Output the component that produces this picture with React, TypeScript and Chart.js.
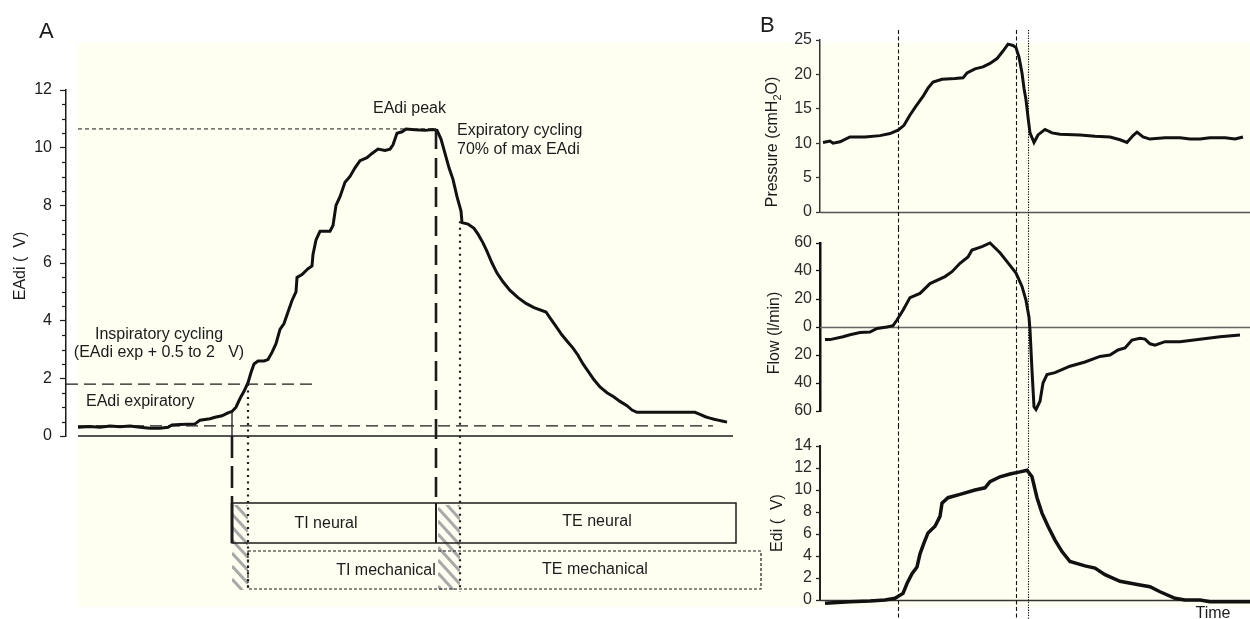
import React, { useEffect, useRef } from "react";
import { Chart, registerables } from "chart.js";

Chart.register(...registerables);

const FONT = '"Liberation Sans", Arial, Helvetica, sans-serif';
Chart.defaults.font.family = FONT;
const BG = "#fefef1";
const INK = "#1b1b1b";

// ---------------- Panel A : EAdi trace (time in ms, value in µV) ----------------
const eadiTimeMs = [24, 48, 68, 88, 108, 128, 148, 168, 188, 204, 212, 228, 258, 268, 288, 298, 312, 324, 332, 340, 348, 356, 364, 370, 376, 384, 396, 404, 412, 420, 428, 436, 444, 452, 460, 462, 472, 484, 492, 494, 500, 508, 528, 534, 540, 548, 558, 568, 578, 588, 602, 612, 624, 638, 648, 654, 662, 672, 680, 698, 718, 734, 742, 750, 758, 766, 774, 782, 790, 792, 804, 816, 824, 834, 842, 852, 862, 874, 888, 904, 920, 936, 960, 968, 980, 992, 1004, 1014, 1024, 1034, 1044, 1056, 1068, 1082, 1096, 1108, 1122, 1132, 1142, 1168, 1208, 1258, 1268, 1280, 1288, 1296, 1304, 1312, 1322];
const eadiValues = [0.30, 0.33, 0.30, 0.35, 0.32, 0.35, 0.30, 0.27, 0.27, 0.30, 0.38, 0.40, 0.42, 0.55, 0.60, 0.65, 0.70, 0.80, 0.85, 1.0, 1.3, 1.55, 1.85, 2.2, 2.5, 2.6, 2.6, 2.65, 2.9, 3.2, 3.7, 3.9, 4.3, 4.7, 5.0, 5.5, 5.6, 5.8, 5.9, 6.3, 6.8, 7.1, 7.1, 7.3, 8.0, 8.3, 8.8, 9.0, 9.3, 9.55, 9.65, 9.8, 9.95, 9.9, 9.95, 10.1, 10.5, 10.55, 10.65, 10.62, 10.6, 10.63, 10.6, 10.3, 9.8, 9.3, 8.9, 8.3, 7.8, 7.4, 7.35, 7.2, 7.0, 6.7, 6.4, 6.0, 5.65, 5.35, 5.05, 4.8, 4.6, 4.45, 4.3, 4.1, 3.8, 3.5, 3.25, 3.05, 2.8, 2.5, 2.25, 1.95, 1.7, 1.5, 1.35, 1.2, 1.05, 0.9, 0.82, 0.82, 0.82, 0.82, 0.75, 0.66, 0.62, 0.58, 0.55, 0.52, 0.48];
const eadiAxisMax = 12;
const eadiTickStep = 2;
const eadiPeak = 10.65;
const eadiExpiratory = 0.35;
const eadiTrigger = 1.8;
const eadiCycleOff = 7.45; // 70 % of max EAdi
const eadiOnsetLevel = 0.85;
// phase times (ms)
const traceStartMs = 24;
const baselineEndMs = 1334;
const expLineEndMs = 1294;
const triggerLineStartMs = 0;
const triggerLineEndMs = 492;
const neuralOnsetMs = 332;
const mechOnsetMs = 364;
const neuralOffMs = 740;
const mechOffMs = 788;
const neuralEndMs = 1340;
const mechEndMs = 1390;
const xMaxA = 1398;

const boxLabels = ["TI neural", "TE neural", "TI mechanical", "TE mechanical"];
const boxLabelTimes = [520, 1062, 640, 1058];

const noteTexts = ["EAdi peak", "Expiratory cycling", "70% of max EAdi", "Inspiratory cycling", "(EAdi exp + 0.5 to 2   V)", "EAdi expiratory"];
const noteTimes = [614, 782, 782, 186, 186, 40];
const noteLevels = [11.2, 10.43, 9.77, 3.36, 2.74, 1.04];
const noteAlign: CanvasTextAlign[] = ["left", "left", "left", "center", "center", "left"];

// ---------------- Panel B : ventilator traces (time in ms) ----------------
const eventTimesB = [390, 980, 1040];
const xMaxB = 2150;

const pressureTime = [15, 50, 65, 100, 150, 225, 300, 350, 390, 420, 450, 480, 515, 540, 565, 610, 675, 715, 735, 775, 815, 850, 885, 915, 940, 965, 980, 995, 1010, 1020, 1030, 1040, 1050, 1070, 1090, 1125, 1160, 1200, 1300, 1375, 1450, 1500, 1535, 1565, 1585, 1615, 1650, 1725, 1800, 1850, 1900, 1950, 2025, 2075, 2115];
const pressureValues = [10.1, 10.3, 10.0, 10.2, 10.9, 10.9, 11.1, 11.4, 11.9, 12.6, 14.1, 15.4, 16.8, 18.0, 18.9, 19.3, 19.4, 19.5, 20.2, 20.8, 21.1, 21.6, 22.3, 23.4, 24.4, 24.2, 23.9, 22.5, 20.2, 18.0, 16.3, 13.8, 11.5, 10.1, 11.2, 12.0, 11.5, 11.3, 11.2, 11.0, 10.9, 10.5, 10.1, 11.1, 11.6, 10.9, 10.6, 10.8, 10.8, 10.6, 10.6, 10.8, 10.8, 10.6, 10.9];

const flowTime = [25, 50, 115, 150, 200, 250, 285, 335, 365, 385, 415, 450, 500, 550, 625, 660, 700, 740, 760, 810, 850, 900, 950, 980, 1010, 1030, 1045, 1050, 1060, 1070, 1080, 1100, 1115, 1135, 1175, 1250, 1325, 1400, 1450, 1490, 1525, 1560, 1600, 1625, 1650, 1675, 1725, 1800, 1900, 2000, 2100];
const flowValues = [-9, -9, -7, -5.5, -4, -3.6, -1, 0, 1, 5, 12, 21, 24, 31, 36, 39.5, 45.5, 50, 55, 57.4, 60, 53, 44, 38.5, 29, 19, 7, -2, -31, -57, -59, -53, -40, -34, -32.6, -28, -25, -21, -20, -16.4, -15, -9.3, -8, -8.6, -12, -13, -10.5, -10.5, -8.8, -7, -5.7];

const ediTime = [25, 150, 250, 325, 375, 415, 435, 460, 485, 500, 520, 540, 575, 600, 610, 640, 700, 775, 825, 850, 900, 950, 1000, 1035, 1060, 1085, 1110, 1140, 1175, 1210, 1250, 1325, 1375, 1425, 1500, 1600, 1650, 1700, 1775, 1825, 1900, 1950, 2150];
const ediValues = [-0.3, -0.15, -0.1, 0, 0.15, 0.6, 1.5, 2.4, 3.0, 4.2, 5.2, 6.1, 6.7, 7.6, 8.8, 9.3, 9.6, 10.0, 10.2, 10.75, 11.2, 11.45, 11.65, 11.8, 11.2, 9.3, 7.9, 6.7, 5.45, 4.4, 3.5, 3.1, 2.9, 2.3, 1.7, 1.36, 1.2, 0.75, 0.15, 0, 0, -0.15, -0.15];

const pts = (xs: number[], ys: number[]) => xs.map((x, i) => ({ x, y: ys[i] }));

function hatch(ctx: CanvasRenderingContext2D, x1: number, x2: number, y1: number, y2: number) {
  ctx.save();
  ctx.beginPath();
  ctx.rect(x1, y1, x2 - x1, y2 - y1);
  ctx.clip();
  ctx.strokeStyle = "#a9a9a9";
  ctx.lineWidth = 3;
  ctx.setLineDash([]);
  const w = x2 - x1;
  for (let yy = y1 - w - 14; yy < y2 + 14; yy += 13) {
    ctx.beginPath();
    ctx.moveTo(x1, yy);
    ctx.lineTo(x2, yy + w * 1.1);
    ctx.stroke();
  }
  ctx.restore();
}

function vline(ctx: CanvasRenderingContext2D, x: number, y1: number, y2: number, dash: number[], width: number, color = INK) {
  ctx.save();
  ctx.strokeStyle = color;
  ctx.lineWidth = width;
  ctx.setLineDash(dash);
  ctx.beginPath();
  ctx.moveTo(x, y1);
  ctx.lineTo(x, y2);
  ctx.stroke();
  ctx.restore();
}

function makePanelA(canvas: HTMLCanvasElement) {
  const plugin = {
    id: "panelA",
    afterDatasetsDraw(chart: any) {
      const { ctx, chartArea: ca } = chart;
      const xs = chart.scales.x;
      const ys = chart.scales.y;
      const X = (t: number) => xs.getPixelForValue(t);
      const Y = (v: number) => ys.getPixelForValue(v);
      const y0 = Y(0);
      ctx.save();
      // minor ticks
      ctx.strokeStyle = INK;
      ctx.lineWidth = 1.2;
      for (let v = 0; v <= eadiAxisMax; v += 0.5) {
        if (v % eadiTickStep === 0) continue;
        const py = Math.round(Y(v)) + 0.5;
        ctx.beginPath();
        ctx.moveTo(ca.left - 4, py);
        ctx.lineTo(ca.left, py);
        ctx.stroke();
      }
      // hatched latency zones
      const nTop = y0 + 67, nBot = y0 + 107, mTop = y0 + 115, mBot = y0 + 153;
      hatch(ctx, X(neuralOnsetMs), X(mechOnsetMs), y0 + 69, y0 + 154);
      hatch(ctx, X(neuralOffMs) + 2, X(mechOffMs), y0 + 69, y0 + 154);
      // neural box
      ctx.strokeStyle = INK;
      ctx.lineWidth = 1.5;
      ctx.setLineDash([]);
      ctx.strokeRect(X(neuralOnsetMs), nTop, X(neuralEndMs) - X(neuralOnsetMs), nBot - nTop);
      vline(ctx, X(neuralOnsetMs), nTop, nBot, [], 3);
      vline(ctx, X(neuralOffMs), nTop, nBot, [], 2);
      // mechanical box (dashed)
      ctx.save();
      ctx.lineWidth = 1.2;
      ctx.setLineDash([3, 2]);
      ctx.strokeRect(X(mechOnsetMs), mTop, X(mechEndMs) - X(mechOnsetMs), mBot - mTop);
      ctx.restore();
      // vertical timing lines
      vline(ctx, X(neuralOnsetMs), Y(eadiOnsetLevel), y0, [], 1.3);
      vline(ctx, X(neuralOnsetMs), y0, nTop, [22, 8], 2.6);
      vline(ctx, X(neuralOffMs), Y(eadiPeak), nTop, [20, 9], 2.6);
      vline(ctx, X(mechOnsetMs), Y(eadiTrigger), mBot + 1, [2, 4.5], 2.2);
      vline(ctx, X(mechOffMs), Y(eadiCycleOff), mBot + 3, [2, 4.5], 2.2);
      // box labels
      ctx.fillStyle = INK;
      ctx.font = `16px ${FONT}`;
      ctx.textAlign = "center";
      ctx.textBaseline = "middle";
      ctx.fillText(boxLabels[0], X(boxLabelTimes[0]), (nTop + nBot) / 2 + 1);
      ctx.fillText(boxLabels[1], X(boxLabelTimes[1]), (nTop + nBot) / 2 - 1);
      ctx.fillText(boxLabels[2], X(boxLabelTimes[2]), (mTop + mBot) / 2 + 1);
      ctx.fillText(boxLabels[3], X(boxLabelTimes[3]), (mTop + mBot) / 2);
      // annotations
      ctx.textBaseline = "alphabetic";
      noteTexts.forEach((txt, i) => {
        ctx.textAlign = noteAlign[i];
        ctx.fillText(txt, X(noteTimes[i]), Y(noteLevels[i]));
      });
      // axis title
      ctx.save();
      ctx.translate(21, (ca.top + ca.bottom) / 2 + 3);
      ctx.rotate(-Math.PI / 2);
      ctx.textAlign = "center";
      ctx.textBaseline = "middle";
      ctx.font = `16px ${FONT}`;
      ctx.fillText("EAdi (  V)", 0, 0);
      ctx.restore();
      // panel letter
      ctx.textAlign = "left";
      ctx.textBaseline = "alphabetic";
      ctx.font = `22px ${FONT}`;
      ctx.fillText("A", 39, 38);
      ctx.restore();
    },
  };

  const ref = (t1: number, t2: number, v: number) => [{ x: t1, y: v }, { x: t2, y: v }];
  return new Chart(canvas, {
    type: "line",
    data: {
      datasets: [
        { data: pts(eadiTimeMs, eadiValues), borderColor: "#111", borderWidth: 3, pointRadius: 0, tension: 0, clip: false } as any,
        { data: ref(traceStartMs, baselineEndMs, 0), borderColor: INK, borderWidth: 1.4, pointRadius: 0, clip: false } as any,
        { data: ref(traceStartMs, neuralOffMs, eadiPeak), borderColor: INK, borderWidth: 1, borderDash: [4, 3], pointRadius: 0 },
        { data: ref(traceStartMs, expLineEndMs, eadiExpiratory), borderColor: INK, borderWidth: 1.3, borderDash: [12, 6], pointRadius: 0 },
        { data: ref(triggerLineStartMs, triggerLineEndMs, eadiTrigger), borderColor: INK, borderWidth: 1.3, borderDash: [12, 6], pointRadius: 0 },
      ],
    },
    options: {
      animation: false,
      responsive: false,
      maintainAspectRatio: false,
      events: [],
      layout: { padding: { top: 90, bottom: 183, left: 0, right: 5 } },
      plugins: { legend: { display: false }, tooltip: { enabled: false } },
      scales: {
        x: { type: "linear", display: false, min: 0, max: xMaxA },
        y: {
          type: "linear",
          min: 0,
          max: eadiAxisMax,
          afterFit: (s: any) => { s.width = 66; },
          ticks: { stepSize: eadiTickStep, color: INK, font: { size: 16 }, padding: 8, autoSkip: false },
          grid: { drawOnChartArea: false, tickLength: 6, color: INK, tickWidth: 1.2 },
          border: { color: INK, width: 1.5 },
        },
      },
    },
    plugins: [plugin],
  } as any);
}

type TraceSpec = {
  key: string;
  t: number[];
  v: number[];
  min: number;
  max: number;
  step: number;
  abs?: boolean;
  padTop: number;
  padBottom: number;
  axisColor: string;
  axisWidth: number;
  zeroColor: string;
  zeroWidth: number;
  lineTop: number;
  title: { text: string; sub?: boolean }[];
  titleX: number;
  titleShift: number;
  lineWidth: number;
  letter?: boolean;
  time?: boolean;
};

function makeTrace(canvas: HTMLCanvasElement, s: TraceSpec) {
  const plugin = {
    id: "trace_" + s.key,
    beforeDatasetsDraw(chart: any) {
      const { ctx, chartArea: ca } = chart;
      const xs = chart.scales.x;
      const ys = chart.scales.y;
      ctx.save();
      const zy = Math.round(ys.getPixelForValue(0)) + 0.5;
      ctx.strokeStyle = s.zeroColor;
      ctx.lineWidth = s.zeroWidth;
      ctx.beginPath();
      ctx.moveTo(ca.left, zy);
      ctx.lineTo(ca.right, zy);
      ctx.stroke();
      const dashes = [[4, 2.5], [4, 2.5], [1.3, 1.3]];
      eventTimesB.forEach((t, i) => {
        const px = Math.round(xs.getPixelForValue(t)) + 0.5;
        vline(ctx, px, s.lineTop, chart.height, dashes[i], 1.1, "#111");
      });
      ctx.restore();
    },
    afterDraw(chart: any) {
      const { ctx, chartArea: ca } = chart;
      ctx.save();
      ctx.fillStyle = INK;
      // rotated title with optional subscript
      const big = `16px ${FONT}`;
      const small = `11px ${FONT}`;
      let total = 0;
      const widths = s.title.map((p) => {
        ctx.font = p.sub ? small : big;
        const w = ctx.measureText(p.text).width;
        total += w;
        return w;
      });
      ctx.translate(s.titleX, (ca.top + ca.bottom) / 2 + s.titleShift);
      ctx.rotate(-Math.PI / 2);
      ctx.textBaseline = "middle";
      ctx.textAlign = "left";
      let cx = -total / 2;
      s.title.forEach((p, i) => {
        ctx.font = p.sub ? small : big;
        ctx.fillText(p.text, cx, p.sub ? 5 : 0);
        cx += widths[i];
      });
      ctx.restore();
      ctx.save();
      ctx.fillStyle = INK;
      if (s.letter) {
        ctx.font = `22px ${FONT}`;
        ctx.textAlign = "left";
        ctx.textBaseline = "alphabetic";
        ctx.fillText("B", 15, 32);
      }
      if (s.time) {
        ctx.font = `16px ${FONT}`;
        ctx.textAlign = "center";
        ctx.textBaseline = "top";
        ctx.fillText("Time", ca.right - 37, ca.bottom + 6);
      }
      ctx.restore();
    },
  };

  return new Chart(canvas, {
    type: "line",
    data: {
      datasets: [
        { data: pts(s.t, s.v), borderColor: "#111", borderWidth: s.lineWidth, pointRadius: 0, tension: 0, clip: false } as any,
      ],
    },
    options: {
      animation: false,
      responsive: false,
      maintainAspectRatio: false,
      events: [],
      layout: { padding: { top: s.padTop, bottom: s.padBottom, left: 0, right: 0 } },
      plugins: { legend: { display: false }, tooltip: { enabled: false } },
      scales: {
        x: { type: "linear", display: false, min: 0, max: xMaxB },
        y: {
          type: "linear",
          min: s.min,
          max: s.max,
          afterFit: (sc: any) => { sc.width = 75; },
          ticks: {
            stepSize: s.step,
            color: "#2a2a2a",
            font: { size: 16 },
            padding: 4,
            autoSkip: false,
            callback: (v: any) => String(s.abs ? Math.abs(Number(v)) : v),
          },
          grid: { drawOnChartArea: false, tickLength: 4, color: s.axisColor, tickWidth: 1.3 },
          border: { color: s.axisColor, width: s.axisWidth },
        },
      },
    },
    plugins: [plugin],
  } as any);
}

const pressureSpec: TraceSpec = {
  key: "p", t: pressureTime, v: pressureValues, min: 0, max: 25, step: 5,
  padTop: 40, padBottom: 16, axisColor: "#333", axisWidth: 1.5, zeroColor: "#555", zeroWidth: 1.3,
  lineTop: 30, title: [{ text: "Pressure (cmH" }, { text: "2", sub: true }, { text: "O)" }],
  titleX: 28, titleShift: 16, lineWidth: 3, letter: true,
};
const flowSpec: TraceSpec = {
  key: "f", t: flowTime, v: flowValues, min: -60, max: 60, step: 20, abs: true,
  padTop: 15, padBottom: 14, axisColor: "#111", axisWidth: 2.5, zeroColor: "#666", zeroWidth: 1.3,
  lineTop: 0, title: [{ text: "Flow (l/min)" }], titleX: 30, titleShift: 6, lineWidth: 3,
};
const ediSpec: TraceSpec = {
  key: "e", t: ediTime, v: ediValues, min: 0, max: 14, step: 2,
  padTop: 21, padBottom: 19, axisColor: "#222", axisWidth: 2, zeroColor: "#333", zeroWidth: 1.4,
  lineTop: 0, title: [{ text: "Edi (  V)" }], titleX: 33, titleShift: 0, lineWidth: 3.5, time: true,
};

export default function App() {
  const aRef = useRef<HTMLCanvasElement>(null);
  const pRef = useRef<HTMLCanvasElement>(null);
  const fRef = useRef<HTMLCanvasElement>(null);
  const eRef = useRef<HTMLCanvasElement>(null);

  useEffect(() => {
    const charts = [
      makePanelA(aRef.current!),
      makeTrace(pRef.current!, pressureSpec),
      makeTrace(fRef.current!, flowSpec),
      makeTrace(eRef.current!, ediSpec),
    ];
    return () => charts.forEach((c) => c.destroy());
  }, []);

  const abs = (left: number, top: number, w: number, h: number): React.CSSProperties => ({
    position: "absolute", left, top, width: w, height: h,
  });

  return (
    <div style={{ position: "absolute", left: 0, top: 0, width: 1250, height: 619, background: "#fff", overflow: "hidden" }}>
      <div style={{ ...abs(78, 43, 1172, 564), background: BG }} />
      <canvas ref={aRef} width={770} height={619} style={abs(0, 0, 770, 619)} />
      <canvas ref={pRef} width={505} height={228} style={abs(745, 0, 505, 228)} />
      <canvas ref={fRef} width={505} height={197} style={abs(745, 228, 505, 197)} />
      <canvas ref={eRef} width={505} height={194} style={abs(745, 425, 505, 194)} />
    </div>
  );
}
